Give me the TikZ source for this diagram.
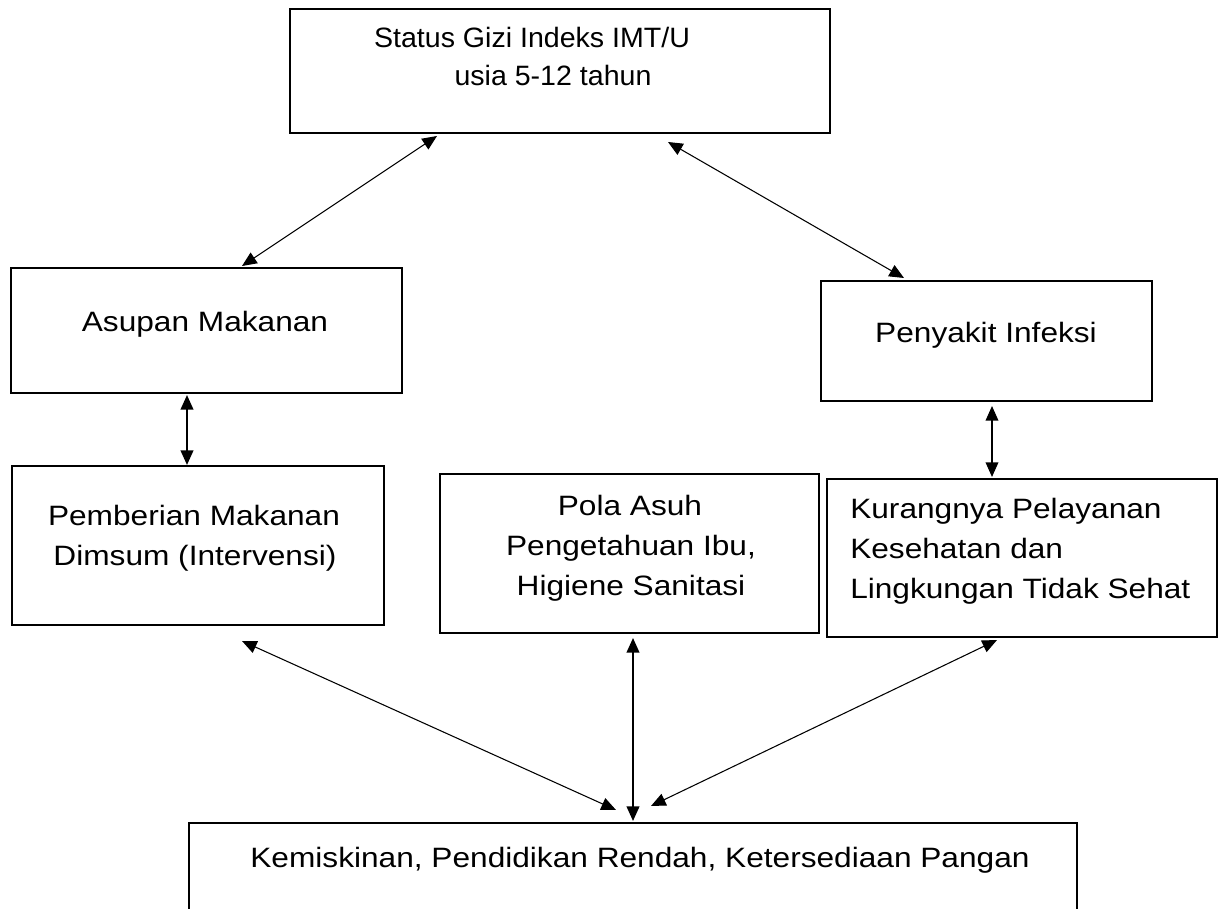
\documentclass[tikz,border=0pt]{standalone}
\usepackage{fontspec}
\setmainfont{Liberation Sans}[FakeStretch=1.13]
\newfontfamily\topfont{Liberation Sans}[FakeStretch=1.02]
\usetikzlibrary{fit,calc,arrows.meta}
\begin{document}
\begin{tikzpicture}[x=0.75pt,y=-0.75pt,
  box/.style={draw, line width=1.5pt, inner sep=0pt},
  txt/.style={anchor=base, inner sep=0pt, font=\fontsize{21pt}{30pt}\selectfont},
  txtt/.style={anchor=base, inner sep=0pt, font=\topfont\fontsize{21pt}{30pt}\selectfont},
  txtl/.style={anchor=base west, inner sep=0pt, font=\fontsize{21pt}{30pt}\selectfont},
  link/.style={line width=0.8pt, {Triangle[length=11pt,width=9.5pt]}-{Triangle[length=11pt,width=9.5pt]}},
  linkb/.style={line width=1.5pt, {Triangle[length=11pt,width=9.5pt]}-{Triangle[length=11pt,width=9.5pt]}}]
\useasboundingbox (0,0) rectangle (1225,909);
\fill[white] (0,0) rectangle (1225,909);
% boxes
\node[box, fit={(290,9) (830,133)}] (top) {};
\node[box, fit={(11,268) (402,393)}] (asupan) {};
\node[box, fit={(821,281) (1152,401)}] (infeksi) {};
\node[box, fit={(12,466) (384,625)}] (pemberian) {};
\node[box, fit={(440,474) (819,633)}] (pola) {};
\node[box, fit={(827,479) (1217,637)}] (kurang) {};
\node[box, fit={(189,823) (1077,912)}] (bottom) {};
% texts
\node[txtt] (t1) at (532,48) {Status Gizi Indeks IMT/U};
\node[txtt] (t2) at (553,86) {usia 5-12 tahun};
\node[txt] (t3) at (205,332) {Asupan Makanan};
\node[txt] (t4) at (986,343) {Penyakit Infeksi};
\node[txt] (t5) at (194,525) {Pemberian Makanan};
\node[txt] (t6) at (195,565) {Dimsum (Intervensi)};
\node[txt] (t7) at (630,515) {Pola Asuh};
\node[txt] (t8) at (631,555) {Pengetahuan Ibu,};
\node[txt] (t9) at (631,595) {Higiene Sanitasi};
\node[txtl] (t10) at (850,518) {Kurangnya Pelayanan};
\node[txtl] (t11) at (850,558) {Kesehatan dan};
\node[txtl] (t12) at (850,598) {Lingkungan Tidak Sehat};
\node[txt] (t13) at (640,867) {Kemiskinan, Pendidikan Rendah, Ketersediaan Pangan};
% connector end points
\coordinate (a1) at ($(top.south west)+(148,2)$);
\coordinate (a2) at ($(asupan.north west)+(232,-1)$);
\coordinate (b1) at ($(top.south west)+(379,8)$);
\coordinate (b2) at ($(infeksi.north west)+(84,-2)$);
\coordinate (c1) at ($(asupan.south west)+(177,1)$);
\coordinate (c2) at ($(pemberian.north west)+(176,0)$);
\coordinate (d1) at ($(infeksi.south west)+(172,4)$);
\coordinate (d2) at ($(kurang.north west)+(166,-1)$);
\coordinate (e1) at ($(pemberian.south west)+(231,15)$);
\coordinate (e2) at ($(bottom.north west)+(428,-12)$);
\coordinate (f1) at ($(pola.south west)+(194,4)$);
\coordinate (f2) at ($(bottom.north west)+(445,-1)$);
\coordinate (g1) at ($(kurang.south west)+(171,2)$);
\coordinate (g2) at ($(bottom.north west)+(463,-16)$);
% connectors
\draw[link] (a1) -- (a2);
\draw[link] (b1) -- (b2);
\draw[linkb] (c1) -- (c2);
\draw[link, line width=1.1pt] (d1) -- (d2);
\draw[link] (e1) -- (e2);
\draw[linkb] (f1) -- (f2);
\draw[link] (g1) -- (g2);
\end{tikzpicture}
\end{document}
